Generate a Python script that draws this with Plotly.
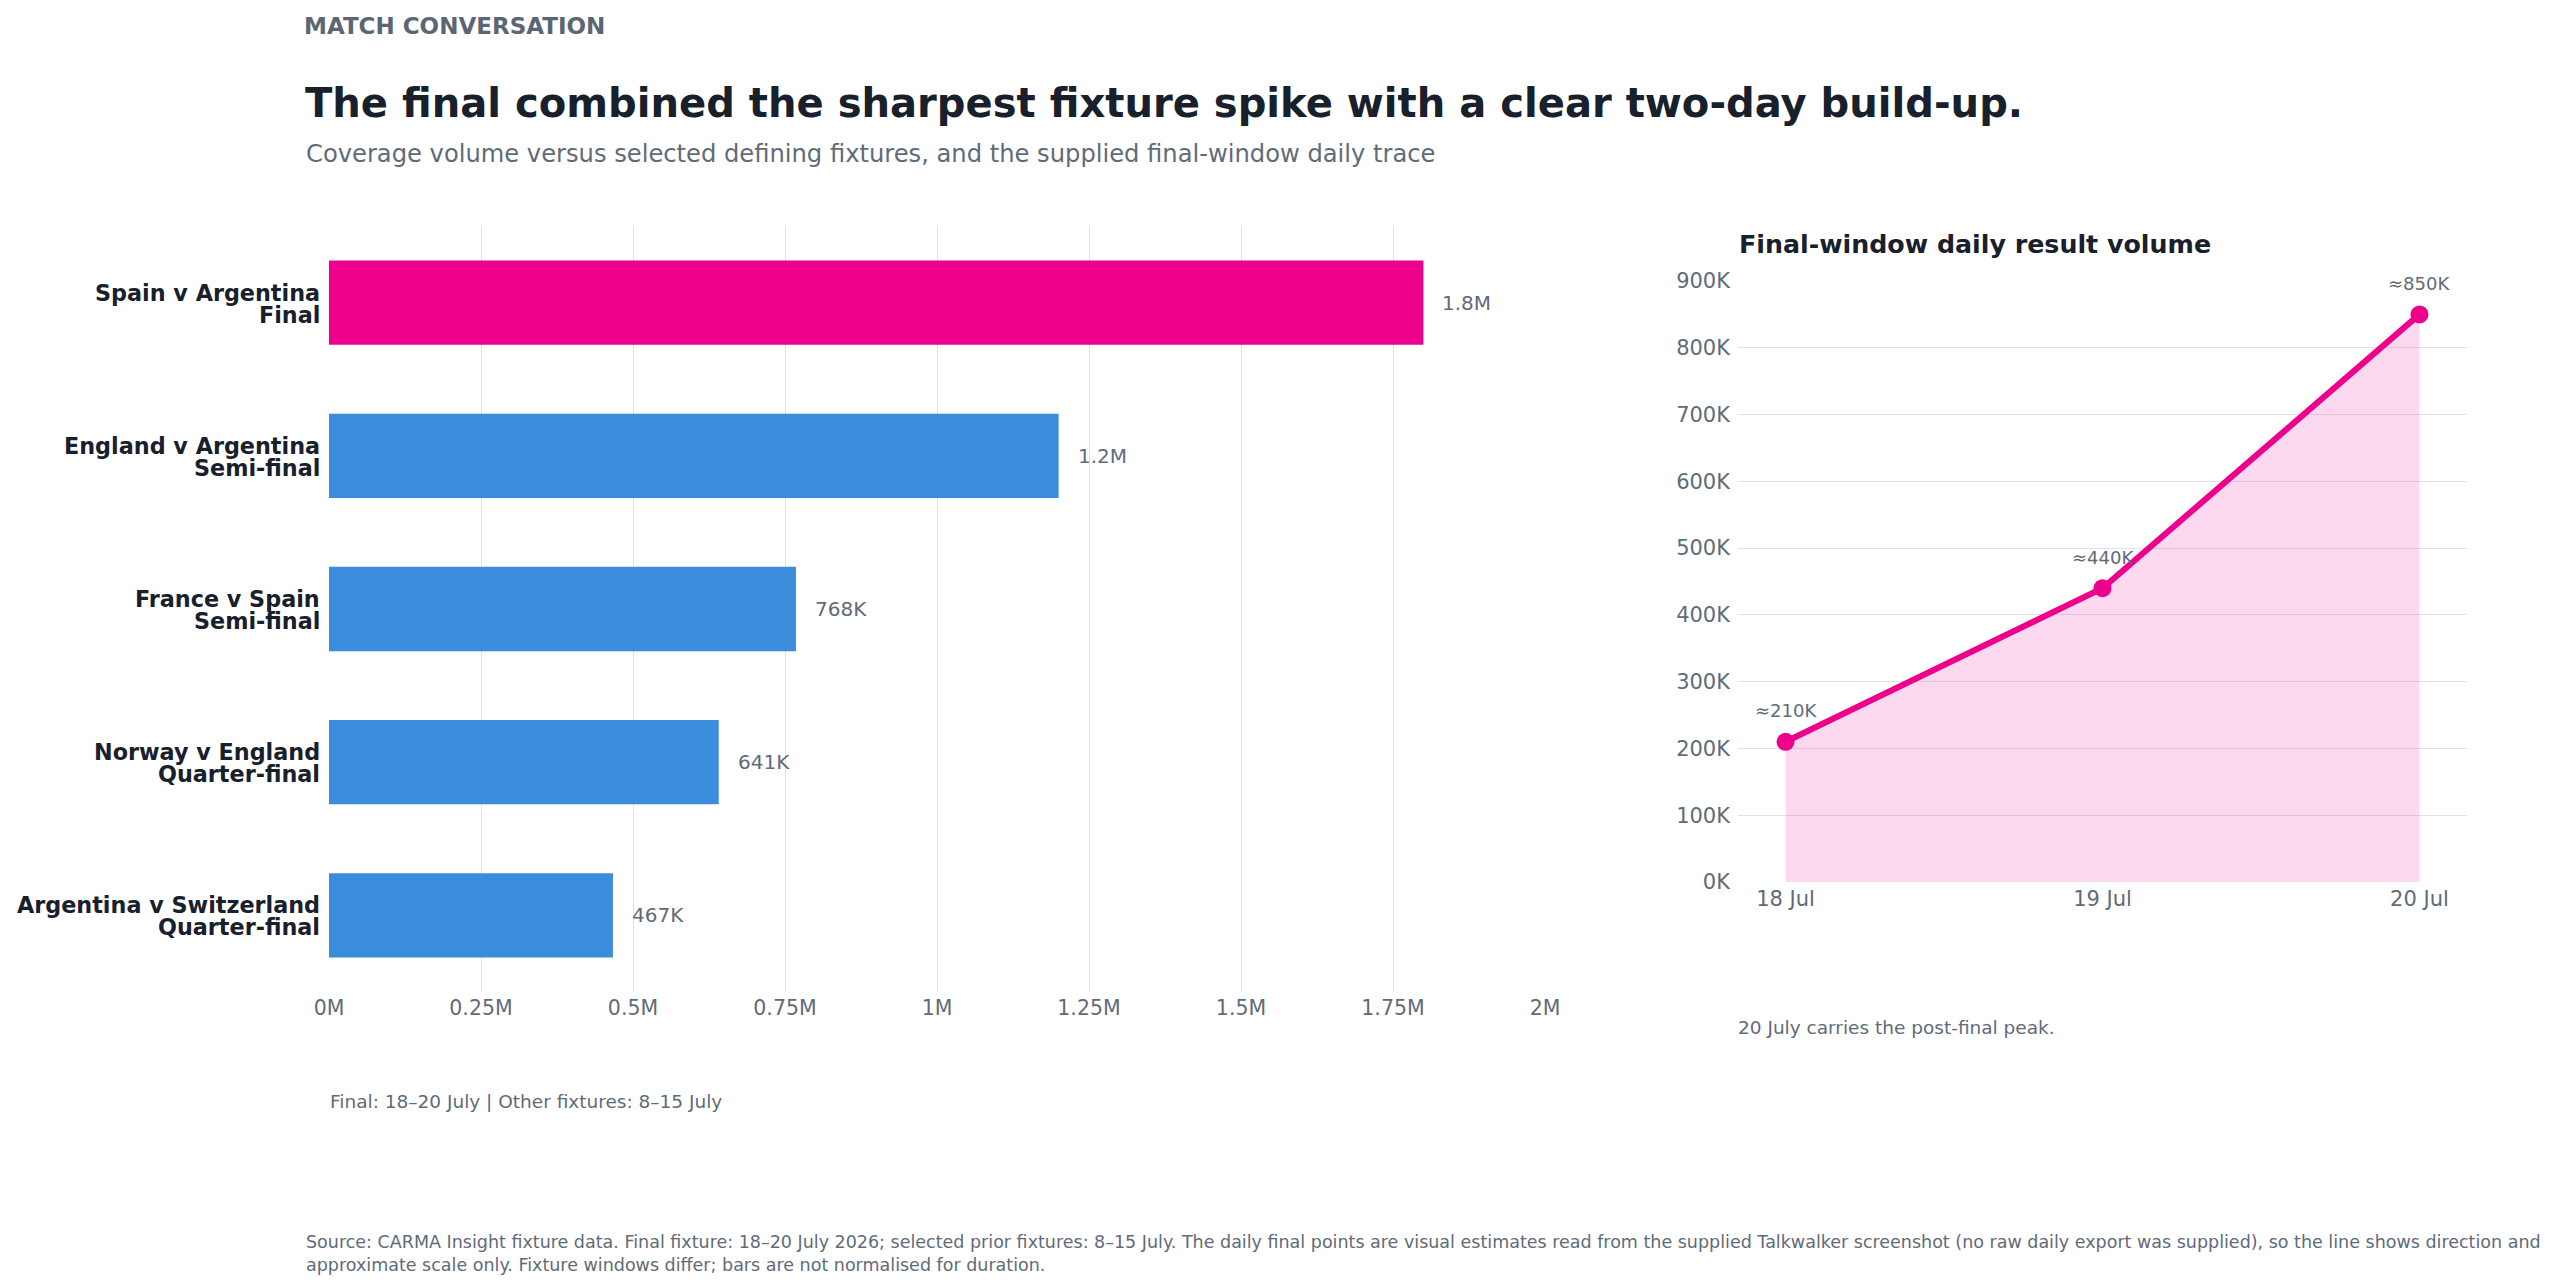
import plotly.graph_objects as go

# ---------------- data ----------------
fixtures = [
    "Spain v Argentina",
    "England v Argentina",
    "France v Spain",
    "Norway v England",
    "Argentina v Switzerland",
]
stages = ["Final", "Semi-final", "Semi-final", "Quarter-final", "Quarter-final"]
volumes = [1800000, 1200000, 768000, 641000, 467000]
volume_labels = ["1.8M", "1.2M", "768K", "641K", "467K"]
bar_tick_vals = [0, 250000, 500000, 750000, 1000000, 1250000, 1500000, 1750000, 2000000]
bar_tick_text = ["0M", "0.25M", "0.5M", "0.75M", "1M", "1.25M", "1.5M", "1.75M", "2M"]

days = ["18 Jul", "19 Jul", "20 Jul"]
daily_volume = [210000, 440000, 850000]
daily_labels = ["≈210K", "≈440K", "≈850K"]
line_tick_vals = [0, 100000, 200000, 300000, 400000, 500000, 600000, 700000, 800000, 900000]
line_tick_text = ["0K", "100K", "200K", "300K", "400K", "500K", "600K", "700K", "800K", "900K"]

# ---------------- style ----------------
PINK = "#ec008c"
BLUE = "#3b8cdb"
DARK = "#17202b"
GREY = "#5f6b79"
GRID = "#dfe3e8"
FONT = "DejaVu Sans"

W, H = 2544, 1271
OFF = 8  # body margin of the page


def px(x):
    return (x - OFF) / W


def py(y):
    return 1 - (y - OFF) / H


bar_colors = [PINK if i == 0 else BLUE for i in range(len(volumes))]

fig = go.Figure()
fig.add_trace(go.Bar(
    x=volumes, y=fixtures, orientation="h",
    marker=dict(color=bar_colors, line=dict(width=0)),
    width=0.55, xaxis="x", yaxis="y", hoverinfo="skip",
))
fig.add_trace(go.Scatter(
    x=days, y=daily_volume, mode="lines+markers",
    line=dict(color=PINK, width=6),
    marker=dict(color=PINK, size=18),
    fill="tozeroy", fillcolor="rgba(236,0,140,0.15)",
    xaxis="x2", yaxis="y2", hoverinfo="skip",
))

annotations = []
# category labels (two lines, tight spacing)
for f, s in zip(fixtures, stages):
    for txt, dy in ((f, 10), (s, -12)):
        annotations.append(dict(
            x=0, y=f, xref="x", yref="y", text=txt, showarrow=False,
            xanchor="right", yanchor="middle", xshift=-7, yshift=dy,
            font=dict(size=22.3, color=DARK, family=FONT, weight="bold"),
        ))
for v, f, t in zip(volumes, fixtures, volume_labels):
    annotations.append(dict(
        x=v, y=f, xref="x", yref="y", text=t, showarrow=False,
        xanchor="left", yanchor="middle", xshift=17,
        font=dict(size=20, color=GREY, family=FONT),
    ))
for d, v, t in zip(days, daily_volume, daily_labels):
    annotations.append(dict(
        x=d, y=v, xref="x2", yref="y2", text=t, showarrow=False,
        xanchor="center", yanchor="middle", yshift=31,
        font=dict(size=18, color=GREY, family=FONT),
    ))

texts = [
    ("MATCH CONVERSATION", 302, 26.5, dict(size=23, color="#5b6573", weight="bold")),
    ("The final combined the sharpest fixture spike with a clear two-day build-up.", 303, 103,
     dict(size=40.1, color=DARK, weight="bold")),
    ("Coverage volume versus selected defining fixtures, and the supplied final-window daily trace",
     304, 154, dict(size=24.2, color=GREY)),
    ("Final-window daily result volume", 1737, 244.5, dict(size=25.3, color=DARK, weight="bold")),
    ("Final: 18–20 July | Other fixtures: 8–15 July", 328, 1101, dict(size=18.5, color=GREY)),
    ("20 July carries the post-final peak.", 1736, 1027, dict(size=18.5, color=GREY)),
    ("Source: CARMA Insight fixture data. Final fixture: 18–20 July 2026; selected prior fixtures: 8–15 July. "
     "The daily final points are visual estimates read from the supplied Talkwalker screenshot "
     "(no raw daily export was supplied), so the line shows direction and<br>"
     "approximate scale only. Fixture windows differ; bars are not normalised for duration.",
     304, 1253.5, dict(size=17.5, color=GREY)),
]
for t, x, y, f in texts:
    f = dict(f)
    f["family"] = FONT
    annotations.append(dict(
        text=t, x=px(x), y=py(y), xref="paper", yref="paper",
        xanchor="left", yanchor="middle", align="left", showarrow=False, font=f,
    ))

fig.update_layout(
    width=W, height=H,
    margin=dict(l=0, r=0, t=0, b=0, pad=0, autoexpand=False),
    paper_bgcolor="white", plot_bgcolor="white",
    showlegend=False,
    font=dict(family=FONT, color=GREY),
    xaxis=dict(
        domain=[px(329), px(1545)], anchor="y", automargin=False,
        range=[0, 2000000], tickvals=bar_tick_vals, ticktext=bar_tick_text,
        showgrid=True, gridcolor=GRID, gridwidth=1, zeroline=False, showline=False,
        ticks="", ticklabelstandoff=1,
        tickfont=dict(size=20.5, color=GREY, family=FONT), fixedrange=True,
    ),
    yaxis=dict(
        domain=[py(992), py(226)], anchor="x", automargin=False,
        autorange="reversed", type="category",
        showgrid=False, zeroline=False, showline=False,
        showticklabels=False, ticks="",
        fixedrange=True,
    ),
    xaxis2=dict(
        domain=[px(1738), px(2467)], anchor="y2", type="category", automargin=False,
        range=[-0.15, 2.15], showgrid=False, zeroline=False, showline=False,
        ticks="", ticklabelstandoff=2,
        tickfont=dict(size=21, color=GREY, family=FONT), fixedrange=True,
    ),
    yaxis2=dict(
        domain=[py(882), py(281)], anchor="x2", automargin=False,
        range=[0, 900000], tickvals=line_tick_vals, ticktext=line_tick_text,
        showgrid=True, gridcolor=GRID, gridwidth=1, zeroline=False, showline=False,
        ticks="", ticklabelstandoff=7,
        tickfont=dict(size=21, color=GREY, family=FONT), fixedrange=True,
    ),
    annotations=annotations,
)

fig.write_html("out.html", config={"displayModeBar": False})
